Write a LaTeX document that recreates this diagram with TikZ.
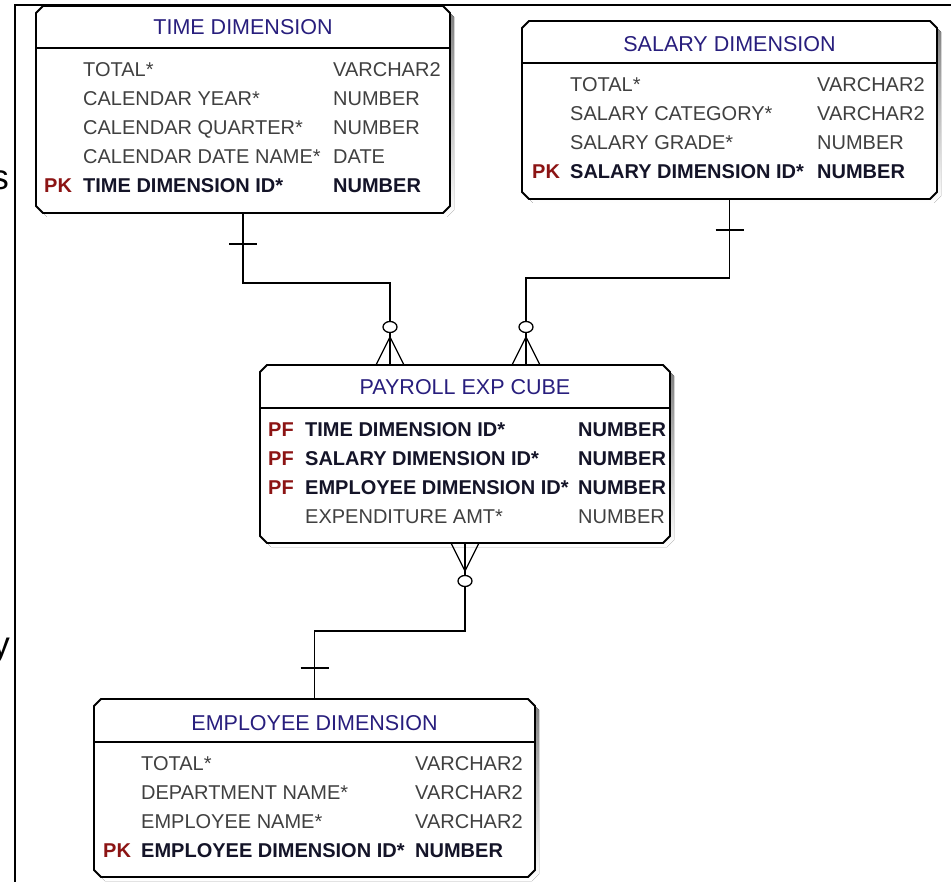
\documentclass[tikz,border=0pt]{standalone}
\usepackage{fontspec}
\setmainfont{Liberation Sans}
\usetikzlibrary{calc}
\definecolor{hdr}{RGB}{40,30,125}
\definecolor{reg}{RGB}{64,64,64}
\definecolor{keyc}{RGB}{140,20,20}
\definecolor{boldc}{RGB}{20,20,40}
\definecolor{shade}{RGB}{195,195,195}
\newcommand\chamferpath[2]{% #1 node name, #2 shift
  ($(#1.north west)+(7,0)+#2$) -- ($(#1.north east)+(-7,0)+#2$) -- ($(#1.north east)+(0,7)+#2$)
  -- ($(#1.south east)+(0,-7)+#2$) -- ($(#1.south east)+(-7,0)+#2$) -- ($(#1.south west)+(7,0)+#2$)
  -- ($(#1.south west)+(0,-7)+#2$) -- ($(#1.north west)+(0,7)+#2$) -- cycle}
\newcommand\erframe[1]{%
  \fill[shade] \chamferpath{#1}{(4,4)};
  \draw[boxline] \chamferpath{#1}{(0,0)};}
\begin{document}
\begin{tikzpicture}[x=1pt,y=-1pt,
  erbox/.style={rectangle, draw=none, inner sep=0pt, outer sep=0pt, anchor=north west},
  boxline/.style={draw=black, line width=1.8pt, fill=white},
  sepline/.style={line width=1.6pt},
  hdrtxt/.style={anchor=base, inner sep=0pt, text=hdr, font=\fontsize{21.5}{26}\selectfont},
  rowtxt/.style={anchor=base west, inner sep=0pt, text=reg, font=\fontsize{20}{24}\selectfont},
  keytxt/.style={anchor=base west, inner sep=0pt, text=keyc, font=\bfseries\fontsize{20}{24}\selectfont},
  boldtxt/.style={anchor=base west, inner sep=0pt, text=boldc, font=\bfseries\fontsize{20}{24}\selectfont},
  conn/.style={line width=1.8pt, black},
  foot/.style={line width=1.2pt, black},
  ring/.style={line width=1.3pt, black, fill=white},
  frag/.style={anchor=base east, inner sep=0pt, text=black, font=\fontsize{35}{40}\selectfont}
]
\useasboundingbox (0,0) rectangle (951,882);
% frame of the clipped page
\draw[line width=2pt] (15,886) -- (15,5) -- (955,5);
\node[frag] (fs) at (9,190) {s};
\node[frag] (fy) at (10,656) {y};

% boxes
\node[erbox, minimum width=414pt, minimum height=207pt] (time) at (36,6) {};
\node[erbox, minimum width=415pt, minimum height=178pt] (sal) at (522,21) {};
\node[erbox, minimum width=410pt, minimum height=178pt] (cube) at (260,365) {};
\node[erbox, minimum width=441pt, minimum height=178pt] (emp) at (94,699) {};
\erframe{time}
\erframe{sal}
\erframe{cube}
\erframe{emp}

\draw[sepline] ($(time.north west)+(0,42)$) -- ($(time.north east)+(0,42)$);
\draw[sepline] ($(sal.north west)+(0,42)$) -- ($(sal.north east)+(0,42)$);
\draw[sepline] ($(cube.north west)+(0,43)$) -- ($(cube.north east)+(0,43)$);
\draw[sepline] ($(emp.north west)+(0,43)$) -- ($(emp.north east)+(0,43)$);

% connectors
\coordinate (c1) at ($(cube.north)+(-75,0)$);
\coordinate (c2) at ($(cube.north)+(61,0)$);
\draw[conn] (time.south) |- ($(c1)+(0,-82)$) -- (c1);
\draw[conn] (sal.south) |- ($(c2)+(0,-87)$) -- (c2);
\draw[conn] (cube.south) |- ($(emp.north)+(0,-68)$) -- (emp.north);
% one-marks
\draw[conn] ($(time.south)+(-14,31)$) -- ++(28,0);
\draw[conn] ($(sal.south)+(-14,31)$) -- ++(28,0);
\draw[conn] ($(emp.north)+(-14,-31)$) -- ++(28,0);
% crow's feet with rings
\draw[foot] ($(c1)+(-14,0)$) -- ($(c1)+(0,-28)$) -- ($(c1)+(14,0)$);
\draw[foot] ($(c2)+(-14,0)$) -- ($(c2)+(0,-28)$) -- ($(c2)+(14,0)$);
\draw[foot] ($(cube.south)+(-14,0)$) -- ($(cube.south)+(0,28)$) -- ($(cube.south)+(14,0)$);
\draw[ring] ($(c1)+(0,-38)$) ellipse (7 and 5.5);
\draw[ring] ($(c2)+(0,-38)$) ellipse (7 and 5.5);
\draw[ring] ($(cube.south)+(0,38)$) ellipse (7 and 5.5);

% TIME DIMENSION
\node[hdrtxt] (th) at (243,35) {TIME DIMENSION};
\node[rowtxt] (t1) at (83,77) {TOTAL*};
\node[rowtxt] (t1t) at (333,77) {VARCHAR2};
\node[rowtxt] (t2) at (83,106) {CALENDAR YEAR*};
\node[rowtxt] (t2t) at (333,106) {NUMBER};
\node[rowtxt] (t3) at (83,135) {CALENDAR QUARTER*};
\node[rowtxt] (t3t) at (333,135) {NUMBER};
\node[rowtxt] (t4) at (83,164) {CALENDAR DATE NAME*};
\node[rowtxt] (t4t) at (333,164) {DATE};
\node[keytxt] (t5k) at (44,193) {PK};
\node[boldtxt] (t5) at (83,193) {TIME DIMENSION ID*};
\node[boldtxt] (t5t) at (333,193) {NUMBER};

% SALARY DIMENSION
\node[hdrtxt] (sh) at (729.5,52) {SALARY DIMENSION};
\node[rowtxt] (s1) at (570,92) {TOTAL*};
\node[rowtxt] (s1t) at (817,92) {VARCHAR2};
\node[rowtxt] (s2) at (570,121) {SALARY CATEGORY*};
\node[rowtxt] (s2t) at (817,121) {VARCHAR2};
\node[rowtxt] (s3) at (570,150) {SALARY GRADE*};
\node[rowtxt] (s3t) at (817,150) {NUMBER};
\node[keytxt] (s4k) at (532,179) {PK};
\node[boldtxt] (s4) at (570,179) {SALARY DIMENSION ID*};
\node[boldtxt] (s4t) at (817,179) {NUMBER};

% PAYROLL EXP CUBE
\node[hdrtxt] (ch) at (465,395) {PAYROLL EXP CUBE};
\node[keytxt] (c1k) at (268,437) {PF};
\node[boldtxt] (r1) at (305,437) {TIME DIMENSION ID*};
\node[boldtxt] (r1t) at (578,437) {NUMBER};
\node[keytxt] (c2k) at (268,466) {PF};
\node[boldtxt] (r2) at (305,466) {SALARY DIMENSION ID*};
\node[boldtxt] (r2t) at (578,466) {NUMBER};
\node[keytxt] (c3k) at (268,494) {PF};
\node[boldtxt] (r3) at (305,494) {EMPLOYEE DIMENSION ID*};
\node[boldtxt] (r3t) at (578,494) {NUMBER};
\node[rowtxt] (r4) at (305,523) {EXPENDITURE AMT*};
\node[rowtxt] (r4t) at (578,523) {NUMBER};

% EMPLOYEE DIMENSION
\node[hdrtxt] (eh) at (314.5,730) {EMPLOYEE DIMENSION};
\node[rowtxt] (e1) at (141,770) {TOTAL*};
\node[rowtxt] (e1t) at (415,770) {VARCHAR2};
\node[rowtxt] (e2) at (141,799) {DEPARTMENT NAME*};
\node[rowtxt] (e2t) at (415,799) {VARCHAR2};
\node[rowtxt] (e3) at (141,828) {EMPLOYEE NAME*};
\node[rowtxt] (e3t) at (415,828) {VARCHAR2};
\node[keytxt] (e4k) at (103,857) {PK};
\node[boldtxt] (e4) at (141,857) {EMPLOYEE DIMENSION ID*};
\node[boldtxt] (e4t) at (415,857) {NUMBER};
\end{tikzpicture}
\end{document}
